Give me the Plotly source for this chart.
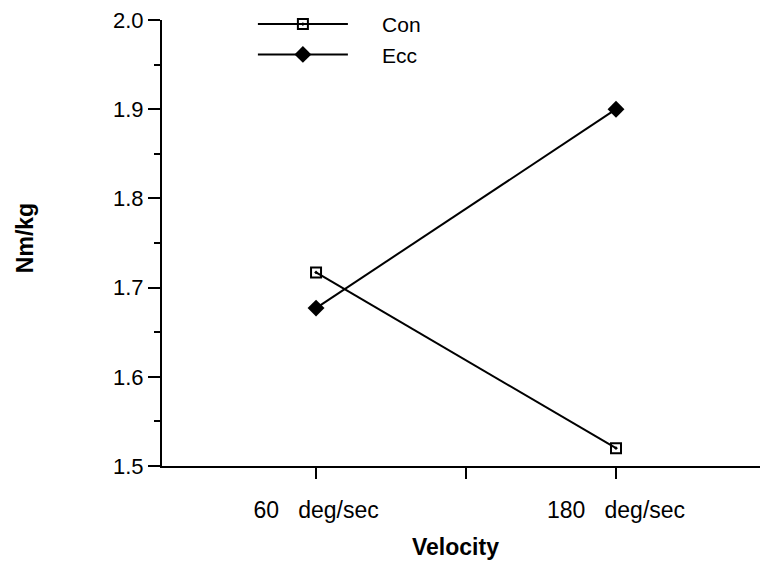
import plotly.graph_objects as go

categories = ["60\u00a0\u00a0\u00a0deg/sec", "180\u00a0\u00a0\u00a0deg/sec"]
cat_pos = [1, 3]
con_values = [1.717, 1.520]
ecc_values = [1.677, 1.900]
y_ticks = [1.5, 1.6, 1.7, 1.8, 1.9, 2.0]
series_names = ["Con", "Ecc"]

pad = "\u00a0" * 5
fig = go.Figure()
fig.add_trace(go.Scatter(
    x=cat_pos, y=con_values, name=pad + series_names[0], mode="lines+markers",
    line=dict(color="black", width=2),
    marker=dict(symbol="square-open-dot", size=10, color="black", line=dict(width=2, color="black")),
))
fig.add_trace(go.Scatter(
    x=cat_pos, y=ecc_values, name=pad + series_names[1], mode="lines+markers",
    line=dict(color="black", width=2),
    marker=dict(symbol="diamond", size=13, color="black"),
))

font = "Liberation Sans, Arial, sans-serif"
fig.update_layout(
    width=760, height=567,
    margin=dict(l=162, r=0, t=20, b=101),
    paper_bgcolor="white", plot_bgcolor="white",
    font=dict(family=font, size=22, color="black"),
    showlegend=True,
    legend=dict(x=0.152, y=1.036, xanchor="left", yanchor="top",
                bgcolor="rgba(0,0,0,0)", itemwidth=90,
                font=dict(size=21)),
    xaxis=dict(
        range=[-0.027, 3.96], tickmode="array", tickvals=[1, 2, 3],
        ticktext=[categories[0], "", categories[1]],
        ticks="outside", ticklen=11, tickwidth=2, tickcolor="black",
        showline=True, linecolor="black", linewidth=2,
        showgrid=False, zeroline=False, ticklabelstandoff=11,
        tickfont=dict(size=23), ticklabeloverflow="allow",
    ),
    yaxis=dict(
        range=[1.5, 2.0], tickmode="array", tickvals=y_ticks,
        ticktext=[f"{v:.1f}" for v in y_ticks],
        ticks="outside", ticklen=12, tickwidth=2, tickcolor="black",
        minor=dict(ticks="outside", dtick=0.05, ticklen=6, tickwidth=2, tickcolor="black", showgrid=False),
        showline=True, linecolor="black", linewidth=2,
        showgrid=False, zeroline=False, ticklabeloverflow="allow",
        tickfont=dict(size=22),
    ),
    annotations=[
        dict(text="<b>Velocity</b>", xref="paper", yref="paper", x=0.49, y=-0.181,
             showarrow=False, xanchor="center", yanchor="middle", font=dict(size=23)),
        dict(text="<b>Nm/kg</b>", xref="paper", yref="paper", x=-0.229, y=0.511,
             showarrow=False, xanchor="center", yanchor="middle", textangle=-90,
             font=dict(size=23)),
    ],
)
fig.write_html(
    "out.html",
    config={"displayModeBar": False},
    post_script="document.body.style.margin='0';document.body.style.overflow='hidden';",
)
